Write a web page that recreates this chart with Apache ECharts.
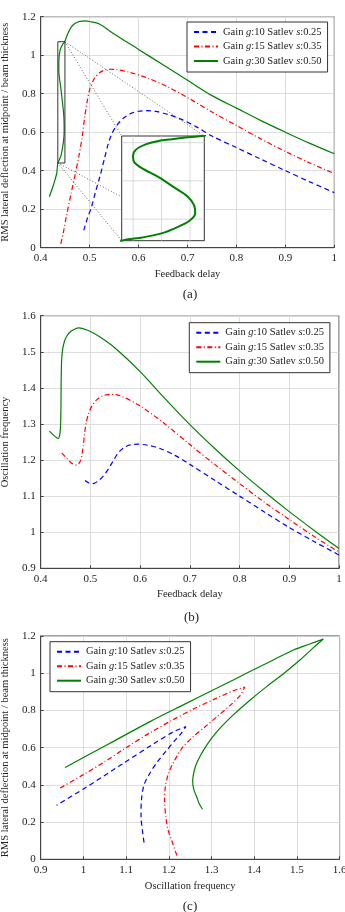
<!DOCTYPE html>
<html>
<head>
<meta charset="utf-8">
<script src="https://cdn.jsdelivr.net/npm/echarts@6/dist/echarts.min.js"></script>
<style>
  html, body { margin: 0; padding: 0; background: #fff; }
  #chart { width: 345px; height: 912px; }
</style>
</head>
<body>
<div id="chart"></div>
<script>
const seriesNames = ["Gain g:10 Satlev s:0.25", "Gain g:15 Satlev s:0.35", "Gain g:30 Satlev s:0.50"];
const captions = ["(a)", "(b)", "(c)"];

// (a) RMS deflection vs feedback delay
const delayA_g10 = [0.488, 0.495, 0.504, 0.512, 0.521, 0.530, 0.538, 0.546, 0.556, 0.570, 0.585, 0.600, 0.617, 0.635, 0.660, 0.690, 0.720, 0.750, 0.800, 0.850, 0.900, 0.950, 1.000];
const rmsA_g10 = [0.090, 0.150, 0.213, 0.290, 0.370, 0.460, 0.540, 0.595, 0.637, 0.675, 0.698, 0.709, 0.712, 0.708, 0.692, 0.664, 0.625, 0.580, 0.520, 0.460, 0.400, 0.342, 0.286];
const delayA_g15 = [0.441, 0.446, 0.453, 0.462, 0.470, 0.478, 0.485, 0.490, 0.495, 0.501, 0.510, 0.520, 0.530, 0.542, 0.555, 0.580, 0.620, 0.660, 0.700, 0.750, 0.800, 0.850, 0.900, 0.950, 1.000];
const rmsA_g15 = [0.020, 0.075, 0.170, 0.280, 0.375, 0.475, 0.580, 0.680, 0.760, 0.830, 0.880, 0.908, 0.922, 0.927, 0.925, 0.912, 0.880, 0.835, 0.780, 0.705, 0.635, 0.565, 0.500, 0.440, 0.385];
const delayA_g30 = [0.4177, 0.4260, 0.4327, 0.4350, 0.4386, 0.4420, 0.4448, 0.4469, 0.4479, 0.4477, 0.4466, 0.4442, 0.4414, 0.4386, 0.4372, 0.4370, 0.4375, 0.4392, 0.4413, 0.4438, 0.4462, 0.4490, 0.4550, 0.4620, 0.4700, 0.4800, 0.4900, 0.5000, 0.5200, 0.5500, 0.6000, 0.6500, 0.7000, 0.7500, 0.8000, 0.8500, 0.9000, 0.9500, 1.0000];
const rmsA_g30 = [0.265, 0.326, 0.386, 0.440, 0.459, 0.484, 0.522, 0.560, 0.604, 0.654, 0.705, 0.761, 0.824, 0.875, 0.913, 0.950, 0.988, 1.020, 1.039, 1.051, 1.061, 1.070, 1.110, 1.145, 1.165, 1.176, 1.178, 1.175, 1.162, 1.110, 1.030, 0.950, 0.870, 0.790, 0.725, 0.660, 0.600, 0.542, 0.488];

// (b) oscillation frequency vs feedback delay
const delayB_g10 = [0.4891, 0.4960, 0.5026, 0.5100, 0.5180, 0.5260, 0.5360, 0.5460, 0.5560, 0.5680, 0.5800, 0.5950, 0.6150, 0.6400, 0.6700, 0.7000, 0.7500, 0.8000, 0.8500, 0.9000, 0.9500, 1.0000];
const freqB_g10 = [1.143, 1.137, 1.134, 1.137, 1.145, 1.156, 1.175, 1.198, 1.220, 1.235, 1.242, 1.244, 1.241, 1.232, 1.213, 1.188, 1.144, 1.100, 1.056, 1.013, 0.974, 0.937];
const delayB_g15 = [0.4423, 0.4523, 0.4624, 0.4724, 0.4790, 0.4830, 0.4857, 0.4880, 0.4910, 0.4960, 0.5030, 0.5120, 0.5250, 0.5400, 0.5600, 0.6000, 0.6500, 0.7000, 0.7500, 0.8000, 0.8500, 0.9000, 0.9500, 1.0000];
const freqB_g15 = [1.220, 1.205, 1.191, 1.186, 1.195, 1.215, 1.240, 1.270, 1.300, 1.328, 1.350, 1.366, 1.378, 1.382, 1.378, 1.350, 1.300, 1.243, 1.188, 1.135, 1.083, 1.035, 0.988, 0.945];
const delayB_g30 = [0.4174, 0.4255, 0.4322, 0.4355, 0.4380, 0.4395, 0.4403, 0.4408, 0.4410, 0.4415, 0.4425, 0.4445, 0.4480, 0.4523, 0.4600, 0.4700, 0.4760, 0.4850, 0.5000, 0.5200, 0.5500, 0.6000, 0.6500, 0.7000, 0.7500, 0.8000, 0.8500, 0.9000, 0.9500, 1.0000];
const freqB_g30 = [1.280, 1.269, 1.262, 1.260, 1.268, 1.285, 1.310, 1.350, 1.400, 1.450, 1.485, 1.510, 1.530, 1.543, 1.556, 1.564, 1.566, 1.564, 1.556, 1.540, 1.510, 1.445, 1.370, 1.298, 1.232, 1.170, 1.112, 1.057, 1.005, 0.955];

// (c) RMS deflection vs oscillation frequency
const freqC_g10 = [1.142, 1.138, 1.135, 1.136, 1.142, 1.155, 1.172, 1.193, 1.213, 1.230, 1.240, 1.226, 1.211, 1.164, 1.093, 1.000, 0.937];
const rmsC_g10 = [0.090, 0.160, 0.230, 0.320, 0.400, 0.460, 0.520, 0.580, 0.635, 0.680, 0.713, 0.700, 0.686, 0.620, 0.515, 0.378, 0.290];
const freqC_g15 = [1.219, 1.207, 1.198, 1.193, 1.190, 1.192, 1.199, 1.212, 1.232, 1.257, 1.285, 1.312, 1.345, 1.367, 1.378, 1.350, 1.312, 1.260, 1.210, 1.156, 1.100, 1.050, 1.000, 0.945];
const rmsC_g15 = [0.020, 0.100, 0.160, 0.230, 0.320, 0.390, 0.460, 0.525, 0.600, 0.659, 0.712, 0.765, 0.830, 0.880, 0.926, 0.905, 0.866, 0.810, 0.750, 0.680, 0.600, 0.525, 0.455, 0.382];
const freqC_g30 = [1.279, 1.271, 1.265, 1.260, 1.257, 1.256, 1.257, 1.260, 1.264, 1.273, 1.285, 1.300, 1.320, 1.351, 1.390, 1.429, 1.470, 1.507, 1.540, 1.562, 1.530, 1.492, 1.440, 1.390, 1.312, 1.234, 1.156, 1.060, 0.957];
const rmsC_g30 = [0.269, 0.300, 0.337, 0.365, 0.392, 0.420, 0.447, 0.480, 0.510, 0.552, 0.600, 0.650, 0.705, 0.776, 0.855, 0.928, 1.000, 1.071, 1.140, 1.184, 1.157, 1.125, 1.066, 1.009, 0.919, 0.830, 0.740, 0.621, 0.493];

// zoomed window of (a) and the inset's own grid lines
const zoomX = [0.435, 0.4495];
const zoomY = [0.44, 1.07];
const insetGridX = [0.437, 0.442, 0.447];
const insetGridY = [0.57, 0.80, 1.03];

const colors = ["#0000ff", "#ff0000", "#008000"];
const dashes = [[5, 3.5], [5, 2.5, 1, 2.5], "solid"];
const font = "Liberation Serif";
const ink = "#222";

const pairs = (xs, ys) => xs.map((x, i) => [x, ys[i]]);

function curve(k, xs, ys, grid, width, z) {
  return {
    type: "line",
    name: seriesNames[k],
    xAxisIndex: grid,
    yAxisIndex: grid,
    data: pairs(xs, ys),
    symbol: "none",
    smooth: 0.3,
    silent: true,
    z: z || 3,
    lineStyle: { color: colors[k], width: width || 1.2, type: dashes[k] },
    itemStyle: { color: colors[k] },
  };
}

function plain(data, grid, color, width, type, z) {
  return {
    type: "line",
    xAxisIndex: grid,
    yAxisIndex: grid,
    data: data,
    symbol: "none",
    silent: true,
    z: z,
    lineStyle: { color: color, width: width, type: type },
  };
}

function axis(grid, min, max, interval, name, gap) {
  return {
    type: "value",
    gridIndex: grid,
    min: min,
    max: max,
    interval: interval,
    name: name,
    nameLocation: "middle",
    nameGap: gap,
    nameTextStyle: { fontFamily: font, fontSize: 10.5, color: ink },
    axisLine: { show: true, lineStyle: { color: "#444", width: 1 } },
    axisTick: { show: true, inside: true, length: 3, lineStyle: { color: "#444" } },
    axisLabel: { fontFamily: font, fontSize: 11, color: ink, margin: 5, showMinLabel: true, showMaxLabel: true },
    splitLine: { show: true, lineStyle: { color: "#d6d6d6", width: 0.8 } },
  };
}

function legend(left, top) {
  return {
    data: seriesNames,
    orient: "vertical",
    left: left,
    top: top,
    selectedMode: false,
    itemWidth: 24,
    itemHeight: 10,
    itemGap: 2.5,
    padding: [4, 6, 5, 6],
    borderColor: "#333",
    borderWidth: 1,
    borderRadius: 0,
    backgroundColor: "#fff",
    itemStyle: { opacity: 0 },
    textStyle: {
      fontFamily: font, fontSize: 10.5, color: ink, lineHeight: 12,
      rich: { i: { fontFamily: font, fontSize: 10.5, fontStyle: "italic", color: ink } },
    },
    formatter: (name) => name.replace("g:", "{i|g}:").replace("s:", "{i|s}:"),
  };
}

const inset = { left: 121.7, top: 136, width: 82.6, height: 104.7 };
const frame = { show: true, borderColor: "#444", borderWidth: 1, outerBoundsMode: "none", containLabel: false };

const option = {
  animation: false,
  grid: [
    Object.assign({ left: 40.7, top: 16.7, width: 293.6, height: 231 }, frame),
    Object.assign({ left: 40.7, top: 315.7, width: 298.3, height: 252.6 }, frame),
    Object.assign({ left: 40.7, top: 636, width: 298.9, height: 223.3 }, frame),
    Object.assign({}, frame, { backgroundColor: "#fff", borderColor: "#333", z: 10 }, inset),
  ],
  xAxis: [
    axis(0, 0.4, 1, 0.1, "Feedback delay", 21),
    axis(1, 0.4, 1, 0.1, "Feedback delay", 20),
    axis(2, 0.9, 1.6, 0.1, "Oscillation frequency", 21),
    { type: "value", gridIndex: 3, min: zoomX[0], max: zoomX[1], show: false },
  ],
  yAxis: [
    axis(0, 0, 1.2, 0.2, "RMS lateral deflection at midpoint / beam thickness", 29),
    axis(1, 0.9, 1.6, 0.1, "Oscillation frequency", 29),
    axis(2, 0, 1.2, 0.2, "RMS lateral deflection at midpoint / beam thickness", 29),
    { type: "value", gridIndex: 3, min: zoomY[0], max: zoomY[1], show: false },
  ],
  legend: [legend(187, 22), legend(189.3, 322.7), legend(50, 641.7)],
  graphic: captions.map((t, i) => ({
    type: "text",
    x: [190, 191.5, 190][i],
    y: [295, 617.7, 906.7][i],
    style: { text: t, fontFamily: font, fontSize: 13, fill: ink, textAlign: "center", textVerticalAlign: "middle" },
  })),
  series: [
    curve(0, delayA_g10, rmsA_g10, 0),
    curve(1, delayA_g15, rmsA_g15, 0),
    curve(2, delayA_g30, rmsA_g30, 0),
    curve(0, delayB_g10, freqB_g10, 1),
    curve(1, delayB_g15, freqB_g15, 1),
    curve(2, delayB_g30, freqB_g30, 1),
    curve(0, freqC_g10, rmsC_g10, 2),
    curve(1, freqC_g15, rmsC_g15, 2),
    curve(2, freqC_g30, rmsC_g30, 2),
    // zoom rectangle on (a)
    plain([[zoomX[0], zoomY[0]], [zoomX[1], zoomY[0]], [zoomX[1], zoomY[1]], [zoomX[0], zoomY[1]], [zoomX[0], zoomY[0]]], 0, "#333", 1, "solid", 5),
  ],
};

// inset grid lines and the magnified green curve
insetGridX.forEach((x) => option.series.push(plain([[x, zoomY[0]], [x, zoomY[1]]], 3, "#d0d0d0", 0.8, "solid", 11)));
insetGridY.forEach((y) => option.series.push(plain([[zoomX[0], y], [zoomX[1], y]], 3, "#d0d0d0", 0.8, "solid", 11)));
option.series.push(curve(2, delayA_g30, rmsA_g30, 3, 2, 12));

const chart = echarts.init(document.getElementById("chart"), null, { renderer: "canvas" });
chart.setOption(option);

// dotted connectors from the zoom rectangle to the inset corners
const tl = chart.convertFromPixel({ gridIndex: 0 }, [inset.left, inset.top]);
const br = chart.convertFromPixel({ gridIndex: 0 }, [inset.left + inset.width, inset.top + inset.height]);
const connectors = [
  [[zoomX[1], zoomY[1]], [tl[0], tl[1]]],
  [[zoomX[1], zoomY[1]], [br[0], tl[1]]],
  [[zoomX[0], zoomY[0]], [tl[0], br[1]]],
  [[zoomX[0], zoomY[0]], [br[0], br[1]]],
];
connectors.forEach((c) => option.series.push(plain(c, 0, "#555", 0.9, [1, 2], 4)));
chart.setOption(option, true);
</script>
</body>
</html>
